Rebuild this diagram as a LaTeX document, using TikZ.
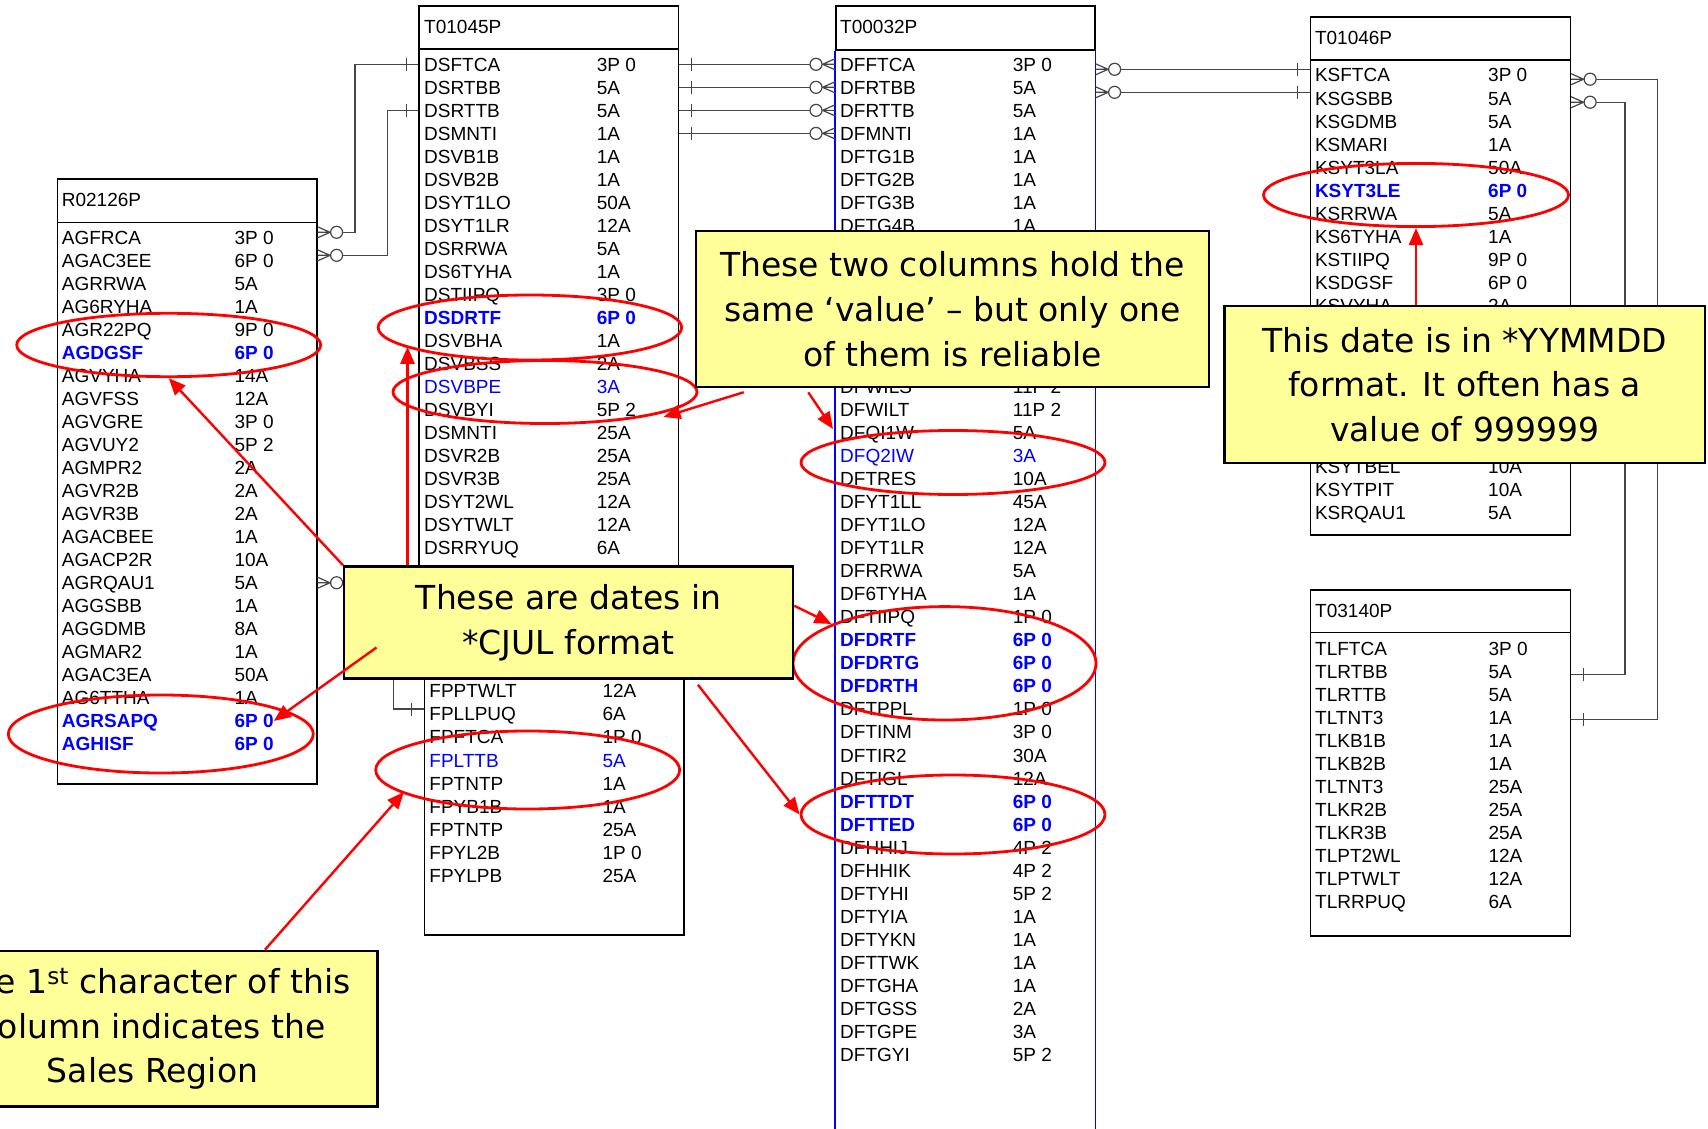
\documentclass[tikz,border=0pt]{standalone}
\usepackage{fontspec}
\setmainfont{Liberation Sans}
\newfontfamily\callfont{DejaVu Sans}
\usetikzlibrary{shapes.geometric, arrows.meta, calc}
\definecolor{keyblue}{RGB}{0, 0, 255}
\definecolor{markred}{RGB}{255, 0, 0}
\definecolor{notefill}{RGB}{255, 255, 153}
\definecolor{linkgray}{RGB}{70, 70, 70}
\newcommand{\rowfont}{\fontsize{19}{19}\selectfont}
\newcommand{\keyfmt}{\color{keyblue}\bfseries}
\newcommand{\bluefmt}{\color{keyblue}}
\newcommand{\plainfmt}{}
\tikzset{
  tablehead/.style={rectangle, draw=black, line width=1.6pt, anchor=north west, inner sep=0pt},
  tablebody/.style={tablehead},
  blueside/.style={draw=keyblue, line width=1.6pt},
  tabletitle/.style={anchor=west, inner sep=0pt, text height=13.6pt, text depth=0pt, font=\rowfont},
  fieldname/.style={tabletitle},
  fieldtype/.style={tabletitle},
  erline/.style={draw=linkgray, line width=1.2pt},
  markring/.style={ellipse, draw=markred, line width=2.8pt, inner sep=0pt},
  notebox/.style={
    rectangle, draw=black, line width=2.5pt, fill=notefill,
    align=center, inner sep=0pt,
    font=\callfont\fontsize{33}{44.7}\selectfont
  },
  notearrow/.style={draw=markred, line width=2.4pt, -{Triangle[length=17pt, width=14pt]}},
  manyend/.pic={
    \draw[erline] (0,-5.5) -- (12.5,0) -- (0,5.5) (0,0) -- (13,0);
    \draw[erline, fill=white] (19,0) circle[radius=6pt];
  },
  oneend/.pic={
    \draw[erline] (12,-6.5) -- (12,6.5);
  }
}

\begin{document}
\begin{tikzpicture}[x=1pt, y=-1pt]

  \useasboundingbox (0,0) rectangle (1708,1129);
  \fill[white] (0,0) rectangle (1708,1129);
  \clip (0,0) rectangle (1708,1129);
  \coordinate (pagefoot) at (0,1140);

  % R02126P
  \node[tablehead, minimum width=259.3pt, minimum height=43.7pt] (aghead) at (56.7,178) {};
  \node[tablebody, minimum width=259.3pt, minimum height=561.3pt] (agbody) at (56.7,221.7) {};
  \node[tabletitle] (agtitle) at (61.7,199.8) {R02126P};
  \foreach \fld/\typ/\rowfmt [count=\i] in {
    AGFRCA/3P 0/\plainfmt, AGAC3EE/6P 0/\plainfmt, AGRRWA/5A/\plainfmt,
    AG6RYHA/1A/\plainfmt, AGR22PQ/9P 0/\plainfmt, AGDGSF/6P 0/\keyfmt,
    AGVYHA/14A/\plainfmt, AGVFSS/12A/\plainfmt, AGVGRE/3P 0/\plainfmt,
    AGVUY2/5P 2/\plainfmt, AGMPR2/2A/\plainfmt, AGVR2B/2A/\plainfmt,
    AGVR3B/2A/\plainfmt, AGACBEE/1A/\plainfmt, AGACP2R/10A/\plainfmt,
    AGRQAU1/5A/\plainfmt, AGGSBB/1A/\plainfmt, AGGDMB/8A/\plainfmt,
    AGMAR2/1A/\plainfmt, AGAC3EA/50A/\plainfmt, AG6TTHA/1A/\plainfmt,
    AGRSAPQ/6P 0/\keyfmt, AGHISF/6P 0/\keyfmt
  }{
    \node[fieldname] (ag\i) at (61.7,{237.3+(\i-1)*23.03}) {\rowfmt\fld};
    \node[fieldtype] (ag\i-t) at (234.3,{237.3+(\i-1)*23.03}) {\rowfmt\typ};
  }

  % T01045P
  \node[tablehead, minimum width=259.4pt, minimum height=43.1pt] (dshead) at (418.3,5.4) {};
  \node[tablebody, minimum width=259.4pt, minimum height=541.5pt] (dsbody) at (418.3,48.5) {};
  \node[tabletitle] (dstitle) at (424,26.8) {T01045P};
  \foreach \fld/\typ/\rowfmt [count=\i] in {
    DSFTCA/3P 0/\plainfmt, DSRTBB/5A/\plainfmt, DSRTTB/5A/\plainfmt,
    DSMNTI/1A/\plainfmt, DSVB1B/1A/\plainfmt, DSVB2B/1A/\plainfmt,
    DSYT1LO/50A/\plainfmt, DSYT1LR/12A/\plainfmt, DSRRWA/5A/\plainfmt,
    DS6TYHA/1A/\plainfmt, DSTIIPQ/3P 0/\plainfmt, DSDRTF/6P 0/\keyfmt,
    DSVBHA/1A/\plainfmt, DSVBSS/2A/\plainfmt, DSVBPE/3A/\bluefmt,
    DSVBYI/5P 2/\plainfmt, DSMNTI/25A/\plainfmt, DSVR2B/25A/\plainfmt,
    DSVR3B/25A/\plainfmt, DSYT2WL/12A/\plainfmt, DSYTWLT/12A/\plainfmt,
    DSRRYUQ/6A/\plainfmt
  }{
    \node[fieldname] (ds\i) at (424,{64.3+(\i-1)*23.03}) {\rowfmt\fld};
    \node[fieldtype] (ds\i-t) at (596.7,{64.3+(\i-1)*23.03}) {\rowfmt\typ};
  }

  % lower table under the CJUL note
  \node[tablebody, minimum width=259.8pt, minimum height=294pt] (fpbody) at (423.5,640) {};
  \foreach \fld/\typ/\rowfmt [count=\i] in {
    FPPTWLT/12A/\plainfmt, FPLLPUQ/6A/\plainfmt, FPFTCA/1P 0/\plainfmt,
    FPLTTB/5A/\bluefmt, FPTNTP/1A/\plainfmt, FPYB1B/1A/\plainfmt,
    FPTNTP/25A/\plainfmt, FPYL2B/1P 0/\plainfmt, FPYLPB/25A/\plainfmt
  }{
    \node[fieldname] (fp\i) at (429.2,{690.9+(\i-1)*23.1}) {\rowfmt\fld};
    \node[fieldtype] (fp\i-t) at (602.4,{690.9+(\i-1)*23.1}) {\rowfmt\typ};
  }

  % T00032P
  \node[tablehead, minimum width=259pt, minimum height=44pt] (dfhead) at (835,5) {};
  \draw[blueside] (dfhead.south west) -- (dfhead.south west |- pagefoot);
  \draw[blueside] (dfhead.south east) -- (dfhead.south east |- pagefoot);
  \node[tabletitle] (dftitle) at (840,26.8) {T00032P};
  \foreach \fld/\typ/\rowfmt [count=\i] in {
    DFFTCA/3P 0/\plainfmt, DFRTBB/5A/\plainfmt, DFRTTB/5A/\plainfmt,
    DFMNTI/1A/\plainfmt, DFTG1B/1A/\plainfmt, DFTG2B/1A/\plainfmt,
    DFTG3B/1A/\plainfmt, DFTG4B/1A/\plainfmt
  }{
    \node[fieldname] (df\i) at (840,{64.3+(\i-1)*23.03}) {\rowfmt\fld};
    \node[fieldtype] (df\i-t) at (1012.7,{64.3+(\i-1)*23.03}) {\rowfmt\typ};
  }
  \foreach \fld/\typ/\rowfmt [count=\i from 15] in {
    DFWILS/11P 2/\plainfmt, DFWILT/11P 2/\plainfmt, DFQI1W/5A/\plainfmt,
    DFQ2IW/3A/\bluefmt, DFTRES/10A/\plainfmt, DFYT1LL/45A/\plainfmt,
    DFYT1LO/12A/\plainfmt, DFYT1LR/12A/\plainfmt, DFRRWA/5A/\plainfmt,
    DF6TYHA/1A/\plainfmt, DFTIIPQ/1P 0/\plainfmt, DFDRTF/6P 0/\keyfmt,
    DFDRTG/6P 0/\keyfmt, DFDRTH/6P 0/\keyfmt, DFTPPL/1P 0/\plainfmt,
    DFTINM/3P 0/\plainfmt, DFTIR2/30A/\plainfmt, DFTIGL/12A/\plainfmt,
    DFTTDT/6P 0/\keyfmt, DFTTED/6P 0/\keyfmt, DFHHIJ/4P 2/\plainfmt,
    DFHHIK/4P 2/\plainfmt, DFTYHI/5P 2/\plainfmt, DFTYIA/1A/\plainfmt,
    DFTYKN/1A/\plainfmt, DFTTWK/1A/\plainfmt, DFTGHA/1A/\plainfmt,
    DFTGSS/2A/\plainfmt, DFTGPE/3A/\plainfmt, DFTGYI/5P 2/\plainfmt
  }{
    \node[fieldname] (df\i) at (840,{64.3+(\i-1)*23.03}) {\rowfmt\fld};
    \node[fieldtype] (df\i-t) at (1012.7,{64.3+(\i-1)*23.03}) {\rowfmt\typ};
  }

  % T01046P
  \node[tablehead, minimum width=260pt, minimum height=43.5pt] (kshead) at (1309.5,16) {};
  \node[tablebody, minimum width=260pt, minimum height=474.5pt] (ksbody) at (1309.5,59.5) {};
  \node[tabletitle] (kstitle) at (1314.8,37.8) {T01046P};
  \foreach \fld/\typ/\rowfmt [count=\i] in {
    KSFTCA/3P 0/\plainfmt, KSGSBB/5A/\plainfmt, KSGDMB/5A/\plainfmt,
    KSMARI/1A/\plainfmt, KSYT3LA/50A/\plainfmt, KSYT3LE/6P 0/\keyfmt,
    KSRRWA/5A/\plainfmt, KS6TYHA/1A/\plainfmt, KSTIIPQ/9P 0/\plainfmt,
    KSDGSF/6P 0/\plainfmt, KSVYHA/2A/\plainfmt
  }{
    \node[fieldname] (ks\i) at (1314.8,{75.2+(\i-1)*23.03}) {\rowfmt\fld};
    \node[fieldtype] (ks\i-t) at (1488,{75.2+(\i-1)*23.03}) {\rowfmt\typ};
  }
  \foreach \fld/\typ/\rowfmt [count=\i from 18] in {
    KSYTBEL/10A/\plainfmt, KSYTPIT/10A/\plainfmt, KSRQAU1/5A/\plainfmt
  }{
    \node[fieldname] (ks\i) at (1314.8,{75.2+(\i-1)*23.03}) {\rowfmt\fld};
    \node[fieldtype] (ks\i-t) at (1488,{75.2+(\i-1)*23.03}) {\rowfmt\typ};
  }

  % T03140P
  \node[tablehead, minimum width=260pt, minimum height=42.4pt] (tlhead) at (1309.5,589.3) {};
  \node[tablebody, minimum width=260pt, minimum height=303.3pt] (tlbody) at (1309.5,631.7) {};
  \node[tabletitle] (tltitle) at (1315,610.5) {T03140P};
  \foreach \fld/\typ/\rowfmt [count=\i] in {
    TLFTCA/3P 0/\plainfmt, TLRTBB/5A/\plainfmt, TLRTTB/5A/\plainfmt,
    TLTNT3/1A/\plainfmt, TLKB1B/1A/\plainfmt, TLKB2B/1A/\plainfmt,
    TLTNT3/25A/\plainfmt, TLKR2B/25A/\plainfmt, TLKR3B/25A/\plainfmt,
    TLPT2WL/12A/\plainfmt, TLPTWLT/12A/\plainfmt, TLRRPUQ/6A/\plainfmt
  }{
    \node[fieldname] (tl\i) at (1315,{648.3+(\i-1)*23.03}) {\rowfmt\fld};
    \node[fieldtype] (tl\i-t) at (1488.3,{648.3+(\i-1)*23.03}) {\rowfmt\typ};
  }

  % Relationships
  \draw[erline] ($(ag1 -| agbody.east)+(0,-5)$) -- ++(37.3,0) |- (ds1 -| dsbody.west);
  \draw[erline] ($(ag2 -| agbody.east)+(0,-5)$) -- ++(70,0) |- (ds3 -| dsbody.west);
  \draw[erline] (ag16 -| agbody.east) -- ++(75.7,0) |- ($(fp2 -| fpbody.west)+(0,-5)$);
  \foreach \i in {1,...,4}
    \draw[erline] (ds\i -| dsbody.east) -- (ds\i -| dfhead.west);
  \foreach \i in {1,2}
    \draw[erline] ($(df\i -| dfhead.east)+(0,5)$) -- ($(df\i -| kshead.west)+(0,5)$);
  \draw[erline] ($(ks1 -| ksbody.east)+(0,4)$) -- ++(86.5,0) |- ($(tl4 -| tlbody.east)+(0,2)$);
  \draw[erline] ($(ks2 -| ksbody.east)+(0,4)$) -- ++(53.8,0) |- ($(tl2 -| tlbody.east)+(0,3)$);

  % Relationship ends
  \pic at ($(ag1 -| agbody.east)+(0,-5)$) {manyend};
  \pic at ($(ag2 -| agbody.east)+(0,-5)$) {manyend};
  \pic at (ag16 -| agbody.east) {manyend};
  \pic[rotate=180] at (ds1 -| dsbody.west) {oneend};
  \pic[rotate=180] at (ds3 -| dsbody.west) {oneend};
  \pic[rotate=180] at ($(fp2 -| fpbody.west)+(0,-5)$) {oneend};
  \foreach \i in {1,...,4}{
    \pic at (ds\i -| dsbody.east) {oneend};
    \pic[rotate=180] at (ds\i -| dfhead.west) {manyend};
  }
  \foreach \i in {1,2}{
    \pic at ($(df\i -| dfhead.east)+(0,5)$) {manyend};
    \pic[rotate=180] at ($(df\i -| kshead.west)+(0,5)$) {oneend};
    \pic at ($(ks\i -| ksbody.east)+(0,4)$) {manyend};
  }
  \pic at ($(tl2 -| tlbody.east)+(0,3)$) {oneend};
  \pic at ($(tl4 -| tlbody.east)+(0,2)$) {oneend};

  % Red rings
  \node[markring, minimum width=304pt, minimum height=63.4pt] (ringagdgsf) at (168.7,345) {};
  \node[markring, minimum width=305pt, minimum height=78pt] (ringagrsapq) at (160.8,734) {};
  \node[markring, minimum width=303.6pt, minimum height=65pt] (ringdsdrtf) at (529.9,327.5) {};
  \node[markring, minimum width=304pt, minimum height=63pt] (ringdsvbpe) at (545,392) {};
  \node[markring, minimum width=304pt, minimum height=64pt] (ringdfq2iw) at (953,462.5) {};
  \node[markring, minimum width=303pt, minimum height=113.4pt] (ringdfdrt) at (944.5,663.3) {};
  \node[markring, minimum width=304pt, minimum height=79pt] (ringdftt) at (953,814.5) {};
  \node[markring, minimum width=304pt, minimum height=78pt] (ringfplttb) at (527.7,770) {};
  \node[markring, minimum width=305pt, minimum height=63.2pt] (ringksyt) at (1416,195) {};

  % Notes
  \node[notebox, minimum width=513pt, minimum height=156pt] (twocolnote) at (952.5,309) {
    These two columns hold the\\same ‘value’ – but only one\\of them is reliable};
  \node[notebox, minimum width=480.4pt, minimum height=157pt] (datenote) at (1464.6,384.5) {
    This date is in *YYMMDD\\format. It often has a\\value of 999999};
  \node[notebox, minimum width=448.8pt, minimum height=112.2pt] (cjulnote) at (568.6,622.5) {
    These are dates in\\*CJUL format};
  \node[notebox, minimum width=449.6pt, minimum height=155.7pt] (salesnote) at (152.5,1028.8) {
    The 1\textsuperscript{st} character of this\\column indicates the\\Sales Region};

  % Note pointers
  \coordinate (cjultail) at (376.5,647.5);
  \coordinate (dsdrtfhit) at (407.5,346.8);
  \coordinate (fplttbhit) at (404,792);
  \coordinate (dfdrthit) at (831.5,624);
  \coordinate (dsvbpehit) at (663.5,417);
  \coordinate (dfq2iwhit) at (833,429);
  \draw[notearrow] (cjulnote.north west) -- (ringagdgsf.south);
  \draw[notearrow] (cjultail) -- (ag22-t.east);
  \draw[notearrow] (dsdrtfhit |- cjulnote.north) -- (dsdrtfhit);
  \draw[notearrow] ([yshift=-40.6pt]cjulnote.north east) -- (dfdrthit);
  \draw[notearrow] ([xshift=-96.3pt, yshift=-5pt]cjulnote.south east) -- (ringdftt.west);
  \draw[notearrow] ([xshift=112.5pt]salesnote.north) -- (fplttbhit);
  \draw[notearrow] ([xshift=49pt, yshift=-4pt]twocolnote.south west) -- (dsvbpehit);
  \draw[notearrow] ([xshift=113.5pt, yshift=-4pt]twocolnote.south west) -- (dfq2iwhit);
  \draw[notearrow] (ringksyt.south |- datenote.north) -- (ringksyt.south);

\end{tikzpicture}
\end{document}
